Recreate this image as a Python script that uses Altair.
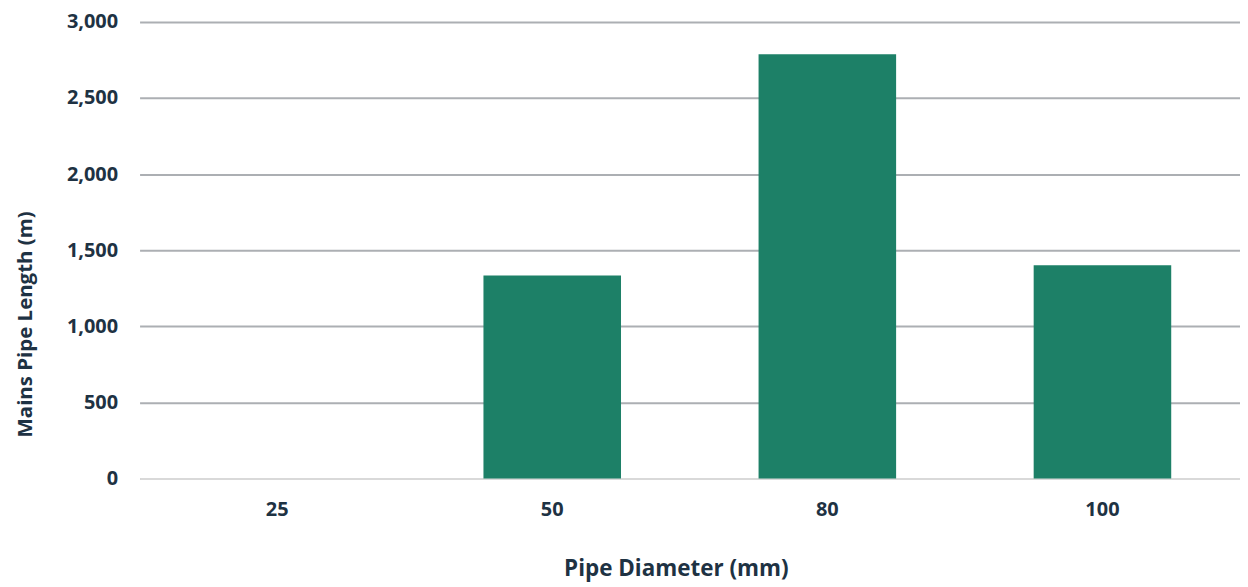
import altair as alt
import pandas as pd

diameters = ["25", "50", "80", "100"]
lengths = [0, 1334, 2788, 1400]

df = pd.DataFrame({"diameter": diameters, "length": lengths})

TEXT = "#1e3243"
FONT = "Open Sans"

chart = alt.Chart(df).mark_bar(color="#1d8067").encode(
    x=alt.X("diameter:N", sort=diameters,
            scale=alt.Scale(paddingInner=0.5, paddingOuter=0.25),
            axis=alt.Axis(title="Pipe Diameter (mm)", labelAngle=0, ticks=False,
                          domain=True, domainColor="#d9d9d9", domainWidth=2,
                          labelPadding=21, labelFontSize=20, labelFont=FONT,
                          labelFontWeight="bold", labelColor=TEXT,
                          titleFontSize=22.5, titleFont=FONT, titleFontWeight="bold",
                          titleColor=TEXT, titleBaseline="middle", titleAlign="center",
                          titleX=538, titleY=90)),
    y=alt.Y("length:Q", scale=alt.Scale(domain=[0, 3000], nice=False),
            axis=alt.Axis(title="Mains Pipe Length (m)", values=[0, 500, 1000, 1500, 2000, 2500, 3000],
                          format=",d", ticks=False, domain=False,
                          grid=True, gridColor="#acafb3", gridWidth=2,
                          labelPadding=22, labelFontSize=20, labelFont=FONT,
                          labelFontWeight="bold", labelColor=TEXT,
                          titleFontSize=20.5, titleFont=FONT, titleFontWeight="bold",
                          titleColor=TEXT, titleBaseline="middle",
                          titleX=-114, titleY=303)),
).properties(
    width=1104, height=458,
    autosize=alt.AutoSizeParams(type="none"),
    padding={"left": 132, "top": 13, "right": 0, "bottom": 104},
).configure_view(stroke=None)

chart.save("out.html", embed_options={"renderer": "svg", "actions": False})
